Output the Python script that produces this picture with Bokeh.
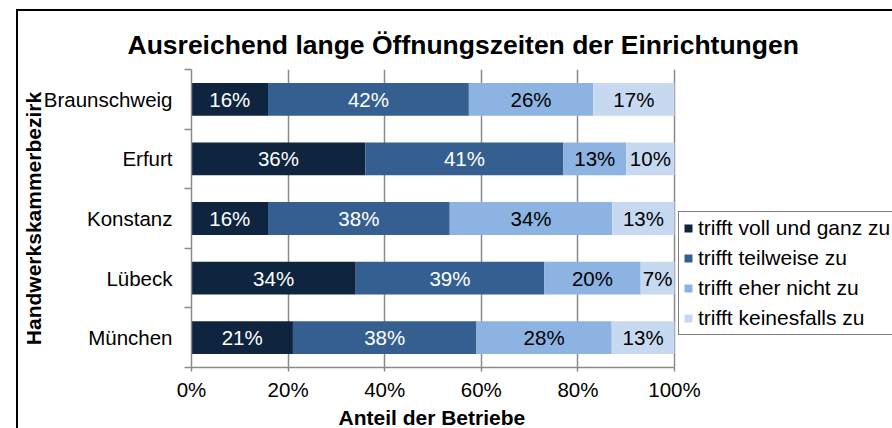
from bokeh.plotting import figure
from bokeh.models import (ColumnDataSource, Range1d, FixedTicker, PrintfTickFormatter,
                          Legend, LegendItem, Title)
from bokeh.embed import file_html
from bokeh.resources import INLINE
from bokeh.core.properties import value

FONT = "Liberation Sans"

chart_title = "Ausreichend lange Öffnungszeiten der Einrichtungen"
x_title = "Anteil der Betriebe"
y_title = "Handwerkskammerbezirk"
districts = ["Braunschweig", "Erfurt", "Konstanz", "Lübeck", "München"]
series = ["trifft voll und ganz zu", "trifft teilweise zu",
          "trifft eher nicht zu", "trifft keinesfalls zu"]
voll = [16, 36, 16, 34, 21]
teilweise = [42, 41, 38, 39, 38]
eher_nicht = [26, 13, 34, 20, 28]
keinesfalls = [17, 10, 13, 7, 13]
x_ticks = [0, 20, 40, 60, 80, 100]

colors = ["#0F243E", "#365F91", "#8DB3E2", "#C6D9F1"]
label_colors = ["white", "white", "black", "black"]
GRAY = "#8a8a8a"

values = [voll, teilweise, eher_nicht, keinesfalls]
n = len(districts)
ypos = list(range(n, 0, -1))
totals = [sum(v[j] for v in values) for j in range(n)]

# the frame reaches the right edge so the legend can sit beside the 0-100 % area
W, H, LEFT, TOP, BOTTOM, AREA = 892, 428, 191, 69, 60, 483
x_end = 100 * (W - LEFT) / AREA

p = figure(width=W, height=H, output_backend="svg", toolbar_location=None,
           x_range=Range1d(0, x_end), y_range=Range1d(0.5, n + 0.5),
           min_border_left=LEFT, min_border_right=0, min_border_top=TOP,
           min_border_bottom=BOTTOM)
p.outline_line_color = None
p.background_fill_color = "white"
p.border_fill_color = None
# outer chart frame (left and top edges visible in the window)
p.styles = {
    "background-color": "white",
    "background-image": "linear-gradient(#000, #000), linear-gradient(#000, #000)",
    "background-position": "16px 9px, 16px 9px",
    "background-size": "2px 100%, 100% 2px",
    "background-repeat": "no-repeat",
}

# title
p.title.text = chart_title
p.title.align = "left"
p.title.offset = -64
p.title.standoff = 19
p.title.text_font = FONT
p.title.text_font_size = "26.5px"
p.title.text_font_style = "bold"
p.title.text_color = "black"

# axes
p.xaxis.ticker = FixedTicker(ticks=x_ticks)
p.xaxis.bounds = (0, 100)
p.xaxis.formatter = PrintfTickFormatter(format="%d%%")
p.xaxis.axis_line_color = GRAY
p.xaxis.axis_line_width = 1.5
p.xaxis.major_tick_line_color = GRAY
p.xaxis.major_tick_line_width = 1.5
p.xaxis.major_tick_out = 4
p.xaxis.major_tick_in = 0
p.xaxis.minor_tick_line_color = None
p.xaxis.major_label_standoff = 6
p.xaxis.major_label_text_font = FONT
p.xaxis.major_label_text_font_size = "20.5px"
p.xaxis.major_label_text_color = "black"

p.add_layout(Title(text=x_title, align="left", offset=147, standoff=0,
                   text_font=FONT, text_font_size="21px", text_font_style="bold",
                   text_color="black"), "below")

p.yaxis.ticker = FixedTicker(ticks=ypos, minor_ticks=[k + 0.5 for k in range(n + 1)])
p.yaxis.major_label_overrides = {y: d for y, d in zip(ypos, districts)}
p.yaxis.axis_line_color = GRAY
p.yaxis.axis_line_width = 1.5
p.yaxis.major_tick_line_color = None
p.yaxis.major_tick_out = 0
p.yaxis.major_tick_in = 0
p.yaxis.minor_tick_line_color = GRAY
p.yaxis.minor_tick_line_width = 1.5
p.yaxis.minor_tick_out = 7
p.yaxis.minor_tick_in = 0
p.yaxis.major_label_standoff = 12
p.yaxis.major_label_text_font = FONT
p.yaxis.major_label_text_font_size = "20.5px"
p.yaxis.major_label_text_color = "black"
p.yaxis.axis_label = y_title
p.yaxis.axis_label_standoff = -4
p.yaxis.axis_label_text_font = FONT
p.yaxis.axis_label_text_font_size = "21px"
p.yaxis.axis_label_text_font_style = "bold"
p.yaxis.axis_label_text_color = "black"

p.xgrid.ticker = FixedTicker(ticks=x_ticks)
p.xgrid.grid_line_color = GRAY
p.xgrid.grid_line_width = 1.5
p.ygrid.grid_line_color = None

# bars (100 % stacked)
renderers = []
left = [0.0] * n
for i, vals in enumerate(values):
    share = [vals[j] / totals[j] * 100 for j in range(n)]
    right = [left[j] + share[j] for j in range(n)]
    src = ColumnDataSource(dict(
        y=ypos, left=list(left), right=right,
        mid=[(left[j] + right[j]) / 2 for j in range(n)],
        label=[f"{v}%" for v in vals]))
    r = p.hbar(y="y", left="left", right="right", height=0.55, source=src,
               fill_color=colors[i], line_color=None)
    p.text(x="mid", y="y", text="label", source=src, text_align="center",
           text_baseline="middle", text_color=label_colors[i],
           text_font=value(FONT), text_font_size="20.5px")
    renderers.append(r)
    left = right

legend = Legend(items=[LegendItem(label=s, renderers=[r]) for s, r in zip(series, renderers)],
                location=(487, 32), orientation="vertical", padding=4, spacing=6,
                glyph_width=10, glyph_height=10, label_standoff=5,
                label_text_font=FONT, label_text_font_size="21px",
                label_text_color="black",
                border_line_color="black", border_line_width=1.5,
                background_fill_color="white", background_fill_alpha=1.0, margin=0)
p.add_layout(legend)

open("out.html", "w").write(file_html(p, INLINE))
